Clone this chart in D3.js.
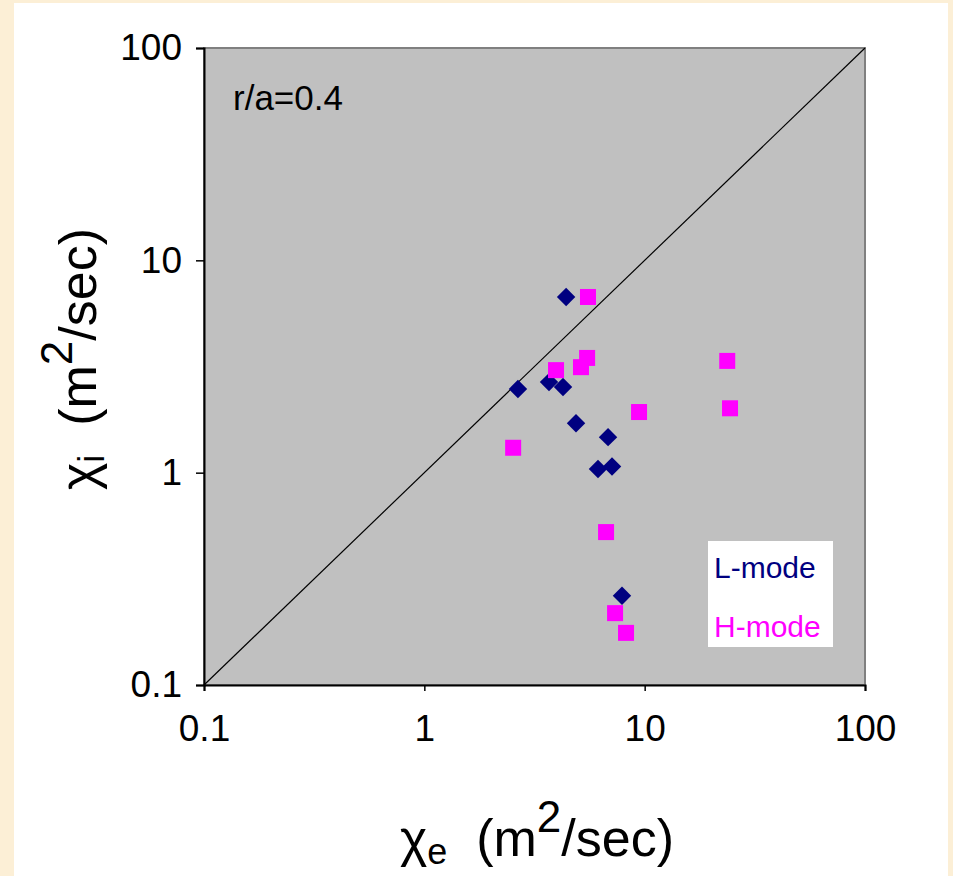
<!DOCTYPE html>
<html>
<head>
<meta charset="utf-8">
<script src="https://cdn.jsdelivr.net/npm/d3@7"></script>
<style>
  body { margin: 0; background: #fcefd6; }
  svg { display: block; font-family: "Liberation Sans", Arial, sans-serif; }
</style>
</head>
<body>
<div id="chart"></div>
<script>
// L-mode points (chi_e, chi_i)
let lmodeX = [4.40, 2.66, 3.68, 4.26, 4.88, 6.82, 6.14, 7.11, 7.89];
let lmodeY = [6.72, 2.48, 2.67, 2.53, 1.71, 1.47, 1.04, 1.07, 0.263];
// H-mode points
let hmodeX = [5.53, 3.96, 5.14, 5.48, 2.53, 9.43, 23.7, 24.4, 6.68, 7.34, 8.23];
let hmodeY = [6.72, 3.04, 3.14, 3.47, 1.31, 1.93, 3.36, 2.01, 0.525, 0.218, 0.176];
let ticks = [0.1, 1, 10, 100];
let tickLabels = ["0.1", "1", "10", "100"];

let W = 953, H = 876;
let margin = { top: 48, left: 204, right: 88, bottom: 191 };
let width = W - margin.left - margin.right,
    height = H - margin.top - margin.bottom;

let svg = d3.select("#chart").append("svg")
  .attr("width", W).attr("height", H);

// background panel
svg.append("rect").attr("x", 0).attr("y", 0).attr("width", W).attr("height", H).attr("fill", "#fcefd6");
svg.append("rect").attr("x", 14).attr("y", 3).attr("width", 934).attr("height", 873).attr("fill", "#ffffff");

let g = svg.append("g").attr("transform", "translate(" + margin.left + "," + margin.top + ")");

let x = d3.scaleLog().domain([0.1, 100]).range([0, width]);
let y = d3.scaleLog().domain([0.1, 100]).range([height, 0]);

g.append("rect").attr("width", width).attr("height", height)
  .attr("fill", "#c0c0c0").attr("stroke", "#808080").attr("stroke-width", 2);

let fmt = (d) => tickLabels[ticks.indexOf(d)];

let xAxis = g.append("g").attr("transform", "translate(0," + height + ")")
  .call(d3.axisBottom(x).tickValues(ticks).tickFormat(fmt).tickSizeOuter(0).tickSize(6));
let yAxis = g.append("g")
  .call(d3.axisLeft(y).tickValues(ticks).tickFormat(fmt).tickSizeOuter(0).tickSize(8));

[xAxis, yAxis].forEach(a => {
  a.select(".domain").attr("stroke", "#000").attr("stroke-width", 2);
  a.selectAll(".tick line").attr("stroke", "#000").attr("stroke-width", 1.5);
  a.selectAll("text").attr("font-size", 37).attr("fill", "#000")
    .attr("font-family", "Liberation Sans, Arial, sans-serif");
});
xAxis.selectAll("text").attr("y", 30);
yAxis.selectAll("text").attr("x", -22);

// diagonal y = x
g.append("line")
  .attr("x1", x(0.1)).attr("y1", y(0.1)).attr("x2", x(100)).attr("y2", y(100))
  .attr("stroke", "#000").attr("stroke-width", 1.2);

g.append("text").attr("x", 29).attr("y", 62).attr("font-size", 35).text("r/a=0.4");

// L-mode diamonds
let lpts = lmodeX.map((v, i) => ({ x: v, y: lmodeY[i] }));
g.selectAll(".lmode").data(lpts).enter().append("path")
  .attr("class", "lmode")
  .attr("d", d3.symbol().type(d3.symbolSquare).size(170))
  .attr("transform", d => "translate(" + x(d.x) + "," + y(d.y) + ") rotate(45)")
  .attr("fill", "#000080");

// H-mode squares
let hpts = hmodeX.map((v, i) => ({ x: v, y: hmodeY[i] }));
g.selectAll(".hmode").data(hpts).enter().append("rect")
  .attr("class", "hmode")
  .attr("x", d => x(d.x) - 8).attr("y", d => y(d.y) - 8)
  .attr("width", 16).attr("height", 16)
  .attr("fill", "#ff00ff");

// legend
let lg = g.append("g").attr("transform", "translate(504,493)");
lg.append("rect").attr("width", 125).attr("height", 106).attr("fill", "#fff");
lg.append("text").attr("x", 6).attr("y", 37).attr("font-size", 30).attr("fill", "#000080").text("L-mode");
lg.append("text").attr("x", 6).attr("y", 96).attr("font-size", 30).attr("fill", "#ff00ff").text("H-mode");

// axis titles
function axisTitle(sel, sub) {
  sel.attr("font-size", 52);
  sel.append("tspan").text("χ");
  sel.append("tspan").attr("font-size", 36).attr("dy", 8).text(sub);
  sel.append("tspan").attr("dy", -8).text("\u00a0\u00a0(m");
  sel.append("tspan").attr("font-size", 44).attr("dy", -24).text("2");
  sel.append("tspan").attr("dy", 24).text("/sec)");
}
axisTitle(svg.append("text").attr("x", 400).attr("y", 856), "e");
axisTitle(svg.append("text").attr("transform", "translate(96,490) rotate(-90)"), "i");
</script>
</body>
</html>
